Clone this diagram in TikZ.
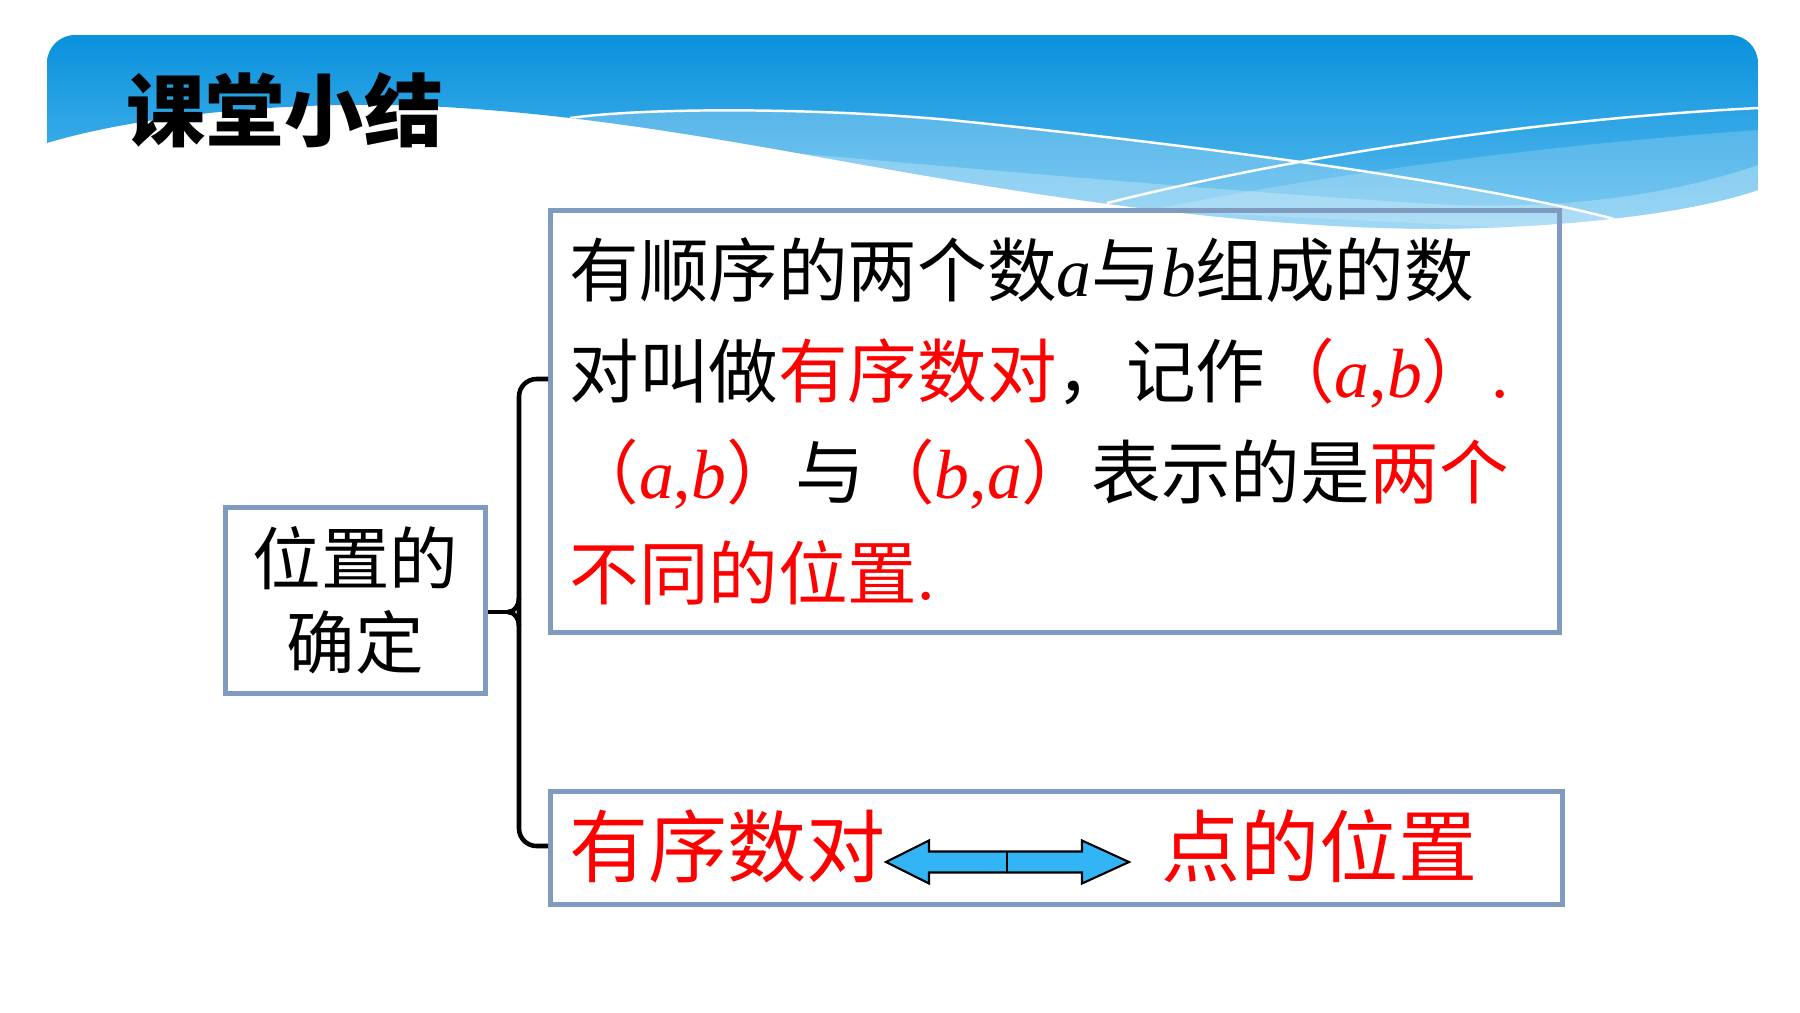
\documentclass[tikz,border=0pt]{standalone}
\usepackage{fontspec}
\setmainfont{Liberation Serif}
\newfontfamily\cjk{Noto Sans CJK SC}
\usetikzlibrary{positioning}
\definecolor{boxblue}{RGB}{127,155,192}
\definecolor{arrowblue}{RGB}{51,181,245}
\definecolor{bandtop}{RGB}{8,144,220}
\definecolor{bandbot}{RGB}{96,192,240}
\newcommand{\letr}[1]{{\rmfamily\itshape #1}}
\newcommand{\opair}[2]{（\letr{#1}{\rmfamily,}\letr{#2}）}

\begin{document}
\begin{tikzpicture}[
box/.style={draw=boxblue, line width=1.4pt},
bracket/.style={line width=1.3pt, rounded corners=5pt},
txt/.style={font=\cjk\fontsize{19.8}{28.7}\selectfont, inner sep=0pt},
big/.style={font=\cjk\fontsize{22.5}{27}\selectfont, inner sep=0pt, text=red},
arrowshape/.style={draw, line width=0.6pt, fill=arrowblue}]
\useasboundingbox (0,0) rectangle (18,-10.12);

% header band
\begin{scope}
\clip (0.47,-1.43) -- (0.47,-0.63) arc[start angle=180, end angle=90, radius=0.28]
  -- (17.30,-0.35) arc[start angle=90, end angle=0, radius=0.28] -- (17.58,-1.90)
  .. controls (17,-2.1) and (16,-2.24) .. (14.8,-2.28)
  .. controls (13.6,-2.32) and (12,-2.2) .. (10,-1.88)
  .. controls (8.2,-1.6) and (6.5,-1.2) .. (4.6,-1.08)
  .. controls (3.2,-0.98) and (1.5,-1.12) .. (0.47,-1.43) -- cycle;
\shade[top color=bandtop, bottom color=bandbot] (0.4,-0.3) rectangle (17.6,-2.4);
\fill[white, opacity=0.22] (4.4,-1.07) .. controls (5,-1.1) and (5.4,-1.15) .. (5.7,-1.18)
  .. controls (6.5,-1.07) and (8.2,-1.08) .. (9.5,-1.2)
  .. controls (11,-1.35) and (14.5,-1.75) .. (16.18,-2.20) -- (16.18,-2.4) -- (4.4,-2.4) -- cycle;
\fill[white, opacity=0.18] (11.5,-2.1) .. controls (13.5,-1.7) and (15.5,-1.45) .. (17.58,-1.30)
  -- (17.58,-2.4) -- cycle;
\fill[white, opacity=0.25] (7,-1.45) .. controls (9,-1.62) and (12,-1.9) .. (14.5,-2.05)
  .. controls (16,-2.1) and (17,-1.85) .. (17.58,-1.65) -- (17.58,-2.4) -- (7,-2.4) -- cycle;
\draw[white, line width=0.7pt] (5.7,-1.18) .. controls (6.5,-1.07) and (8.2,-1.08) .. (9.5,-1.2)
  .. controls (11,-1.35) and (14.5,-1.75) .. (16.18,-2.20);
\draw[white, line width=0.7pt] (11.07,-2.03) .. controls (12.8,-1.6) and (15.2,-1.2) .. (17.58,-1.08);
\end{scope}
\node[font=\cjk\bfseries\fontsize{22.5}{27}\selectfont, inner sep=0pt] (title) at (2.85,-1.10) {课堂小结};

% boxes
\node[box, font=\cjk\fontsize{19.5}{23.9}\selectfont, inner sep=0pt, align=center,
  minimum width=2.6cm, minimum height=1.86cm] (pos) at (3.555,-6.005) {位置的\\确定};
\node[box, txt, align=left, text width=9.71cm, inner xsep=0.19cm, minimum width=10.09cm,
  minimum height=4.22cm] (info) at (10.55,-4.215)
  {有顺序的两个数\letr{a}与\letr{b}组成的数\\
   对叫做\textcolor{red}{有序数对}，记作\textcolor{red}{\opair{a}{b}{\rmfamily.}}\\
   \textcolor{red}{\opair{a}{b}}与\textcolor{red}{\opair{b}{a}}表示的是\textcolor{red}{两个}\\
   \textcolor{red}{不同的位置{\rmfamily.}}};
\node[box, minimum width=10.12cm, minimum height=1.13cm] (pairbox) at (10.565,-8.48) {};
\node[big, anchor=west] (pairs) at (5.69,-8.46) {有序数对};
\node[big, anchor=west] (points) at (11.61,-8.46) {点的位置};

% double arrow
\draw[arrowshape] (8.86,-8.62) -- (9.29,-8.405) -- (9.29,-8.515) -- (10.82,-8.515)
  -- (10.82,-8.405) -- (11.29,-8.62) -- (10.82,-8.835) -- (10.82,-8.725)
  -- (9.29,-8.725) -- (9.29,-8.835) -- cycle;
\draw[line width=0.6pt] (10.07,-8.515) -- (10.07,-8.725);

% brace
\coordinate (bt) at (info.west |- 0,-3.79);
\coordinate (bb) at (pairbox.west |- 0,-8.46);
\coordinate (tip) at (pos.east |- 0,-6.12);
\draw[bracket] (bt) -- (5.19,-3.79) -- (5.19,-8.46) -- (bb);
\draw[line width=1.3pt] (tip) -- (5.08,-6.12);
\draw[line width=1.3pt] (5.19,-5.98) to[out=-90, in=0] (5.08,-6.12) to[out=0, in=90] (5.19,-6.26);
\end{tikzpicture}
\end{document}
